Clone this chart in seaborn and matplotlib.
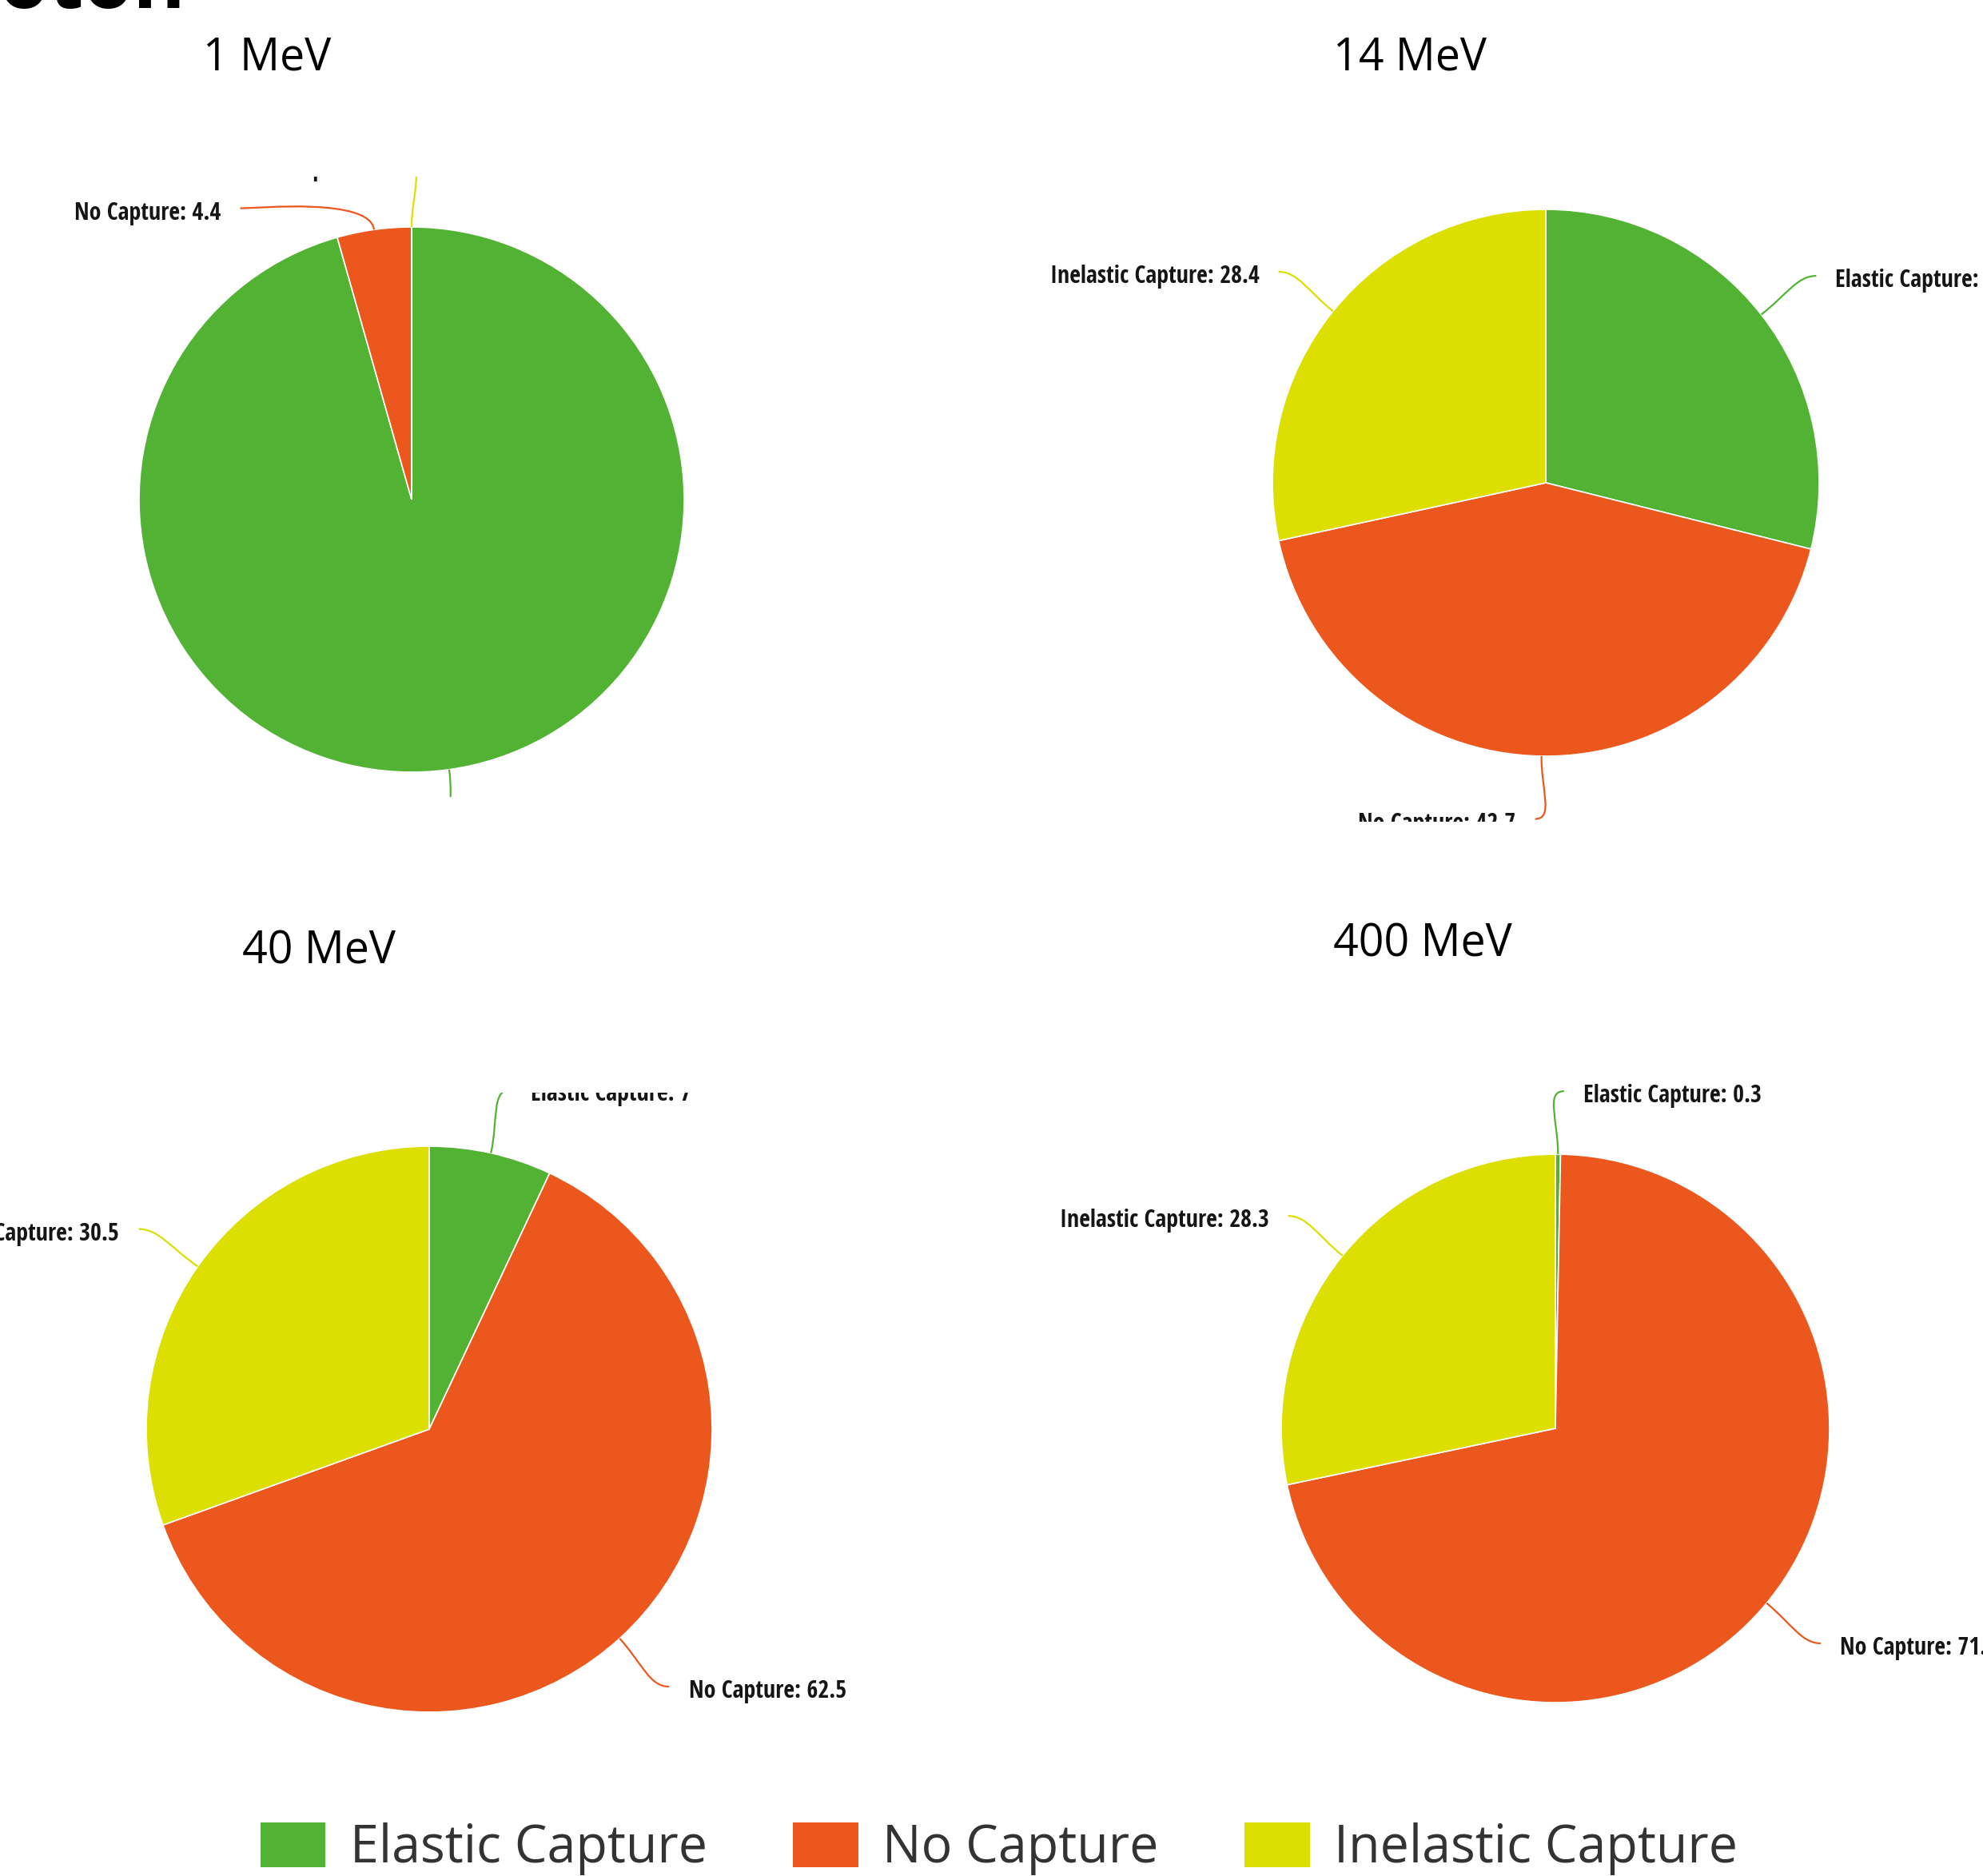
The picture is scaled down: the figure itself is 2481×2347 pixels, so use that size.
import numpy as np
import matplotlib
matplotlib.use("Agg")
import matplotlib.pyplot as plt
import seaborn as sns
from matplotlib import font_manager as fm
from matplotlib.path import Path
from matplotlib.patches import PathPatch, Patch

# ---------------- data ----------------
categories = ["Elastic Capture", "No Capture", "Inelastic Capture"]
energies = ["1 MeV", "14 MeV", "40 MeV", "400 MeV"]
values_1mev = [95.6, 4.4, 0.0]
values_14mev = [28.9, 42.7, 28.4]
values_40mev = [7.0, 62.5, 30.5]
values_400mev = [0.3, 71.4, 28.3]
all_values = [values_1mev, values_14mev, values_40mev, values_400mev]
colors = ["#52b234", "#eb571d", "#dddf00"]
slide_title = "Proton"

# ---------------- style ----------------
sns.set_theme(style="white")
plt.rcParams["font.family"] = ["Open Sans", "DejaVu Sans"]

W, H = 2481, 2347
DPI = 100
fig = plt.figure(figsize=(W / DPI, H / DPI), dpi=DPI)
fig.patch.set_facecolor("white")

# ---- choose the narrowest available bold font for the slice labels ----
installed = {f.name for f in fm.fontManager.ttflist}
candidates = [
    ("Liberation Sans Narrow", "normal"), ("Arial Narrow", "normal"),
    ("Nimbus Sans Narrow", "normal"), ("Roboto Condensed", "normal"),
    ("Open Sans Condensed", "normal"), ("DejaVu Sans", "condensed"),
    ("Liberation Sans", "normal"), ("Roboto", "normal"), ("Lato", "normal"),
]
renderer = fig.canvas.get_renderer()
REF_LABEL = "No Capture: 62.5"
TARGET_W = 196.0   # pixel width of that label in the reference
best = ("DejaVu Sans", "normal", 16.0)
for fam, st in candidates:
    if fam not in installed:
        continue
    t = fig.text(0, 0, REF_LABEL, fontsize=23.5, family=fam, fontweight="bold", fontstretch=st)
    w = t.get_window_extent(renderer).width
    t.remove()
    size = min(23.5, 23.5 * TARGET_W / w)
    if size > best[2] + 0.05:
        best = (fam, st, size)
LABEL_FAM, LABEL_STRETCH, LABEL_SIZE = best

# panel layout in pixel units: visible box (L, T, R, B), pie centre, radius, title position
layouts = [
    dict(box=(0, 221, 1100, 997), c=(515, 625), r=341, title=(334, 73)),
    dict(box=(1266, 150, 2481, 1028), c=(1934, 604), r=342, title=(1764, 73)),
    dict(box=(0, 1367, 1260, 2240), c=(537, 1788), r=354, title=(399, 1191)),
    dict(box=(1290, 1345, 2481, 2240), c=(1946, 1787), r=343, title=(1780, 1182)),
]

LABEL_R = 1.23      # label anchor radius (pie radius = 1)
LABEL_GAP_PX = 55   # min vertical spacing between labels on same side
TEXT_DROP_PX = 6    # text sits slightly below the connector end

for vals, energy, lay in zip(all_values, energies, layouts):
    L, T, R, B = lay["box"]
    cx, cy = lay["c"]
    rp = lay["r"]
    ax = fig.add_axes([L / W, 1 - B / H, (R - L) / W, (B - T) / H])
    wedges, _ = ax.pie(
        vals, colors=colors, startangle=90, counterclock=False, radius=1,
        wedgeprops=dict(edgecolor="white", linewidth=1.2),
    )
    ax.set_aspect("auto")
    ax.set_xlim((L - cx) / rp, (R - cx) / rp)
    ax.set_ylim((cy - B) / rp, (cy - T) / rp)
    ax.axis("off")

    # label positions derived from wedge geometry
    labels = []
    for w, cat, v, col in zip(wedges, categories, vals, colors):
        tm = np.deg2rad((w.theta1 + w.theta2) / 2)
        a = 90 - np.rad2deg(tm)  # clockwise angle from top
        side = 1 if a < 180 else -1
        d = np.array([np.cos(tm), np.sin(tm)])
        labels.append(dict(dir=d, side=side, x=LABEL_R * d[0], y=LABEL_R * d[1],
                           text=f"{cat}: {v:g}", color=col))
    gap = LABEL_GAP_PX / rp
    for s in (1, -1):
        grp = sorted([l for l in labels if l["side"] == s], key=lambda l: -l["y"])
        for i in range(1, len(grp)):
            if grp[i - 1]["y"] - grp[i]["y"] < gap:
                grp[i]["y"] = grp[i - 1]["y"] - gap
                grp[i]["x"] = s * np.sqrt(max(LABEL_R ** 2 - grp[i]["y"] ** 2, 0))

    for l in labels:
        s = l["side"]
        p0 = l["dir"] * 1.0
        p1 = p0 + l["dir"] * 0.12
        p3 = np.array([l["x"] + s * 0.02, l["y"]])
        p2 = np.array([p3[0] - s * 0.07, p3[1]])
        path = Path([p0, p1, p2, p3], [Path.MOVETO, Path.CURVE4, Path.CURVE4, Path.CURVE4])
        ax.add_patch(PathPatch(path, facecolor="none", edgecolor=l["color"], lw=1.6))
        ax.text(l["x"] + s * 0.09, l["y"] - TEXT_DROP_PX / rp, l["text"],
                ha="left" if s > 0 else "right",
                va="center", family=LABEL_FAM, fontstretch=LABEL_STRETCH,
                fontweight="bold", fontsize=LABEL_SIZE, color="#151515", clip_on=True)

    tx, ty = lay["title"]
    fig.text(tx / W, 1 - ty / H, energy, ha="center", va="center", fontsize=40, color="black")

# slide title (mostly above the visible area)
fig.text(232 / W, 1 - 10 / H, slide_title, ha="right", va="baseline",
         fontsize=72, fontweight="bold", color="black")

# legend
handles = [Patch(facecolor=c, edgecolor="none", label=cat) for c, cat in zip(colors, categories)]
leg = fig.legend(handles=handles, loc="center", bbox_to_anchor=(1250 / W, 1 - 2313 / H),
                 ncol=3, frameon=False, prop=dict(family="Open Sans", size=46.5),
                 handlelength=1.26, handleheight=0.97, handletextpad=0.47,
                 columnspacing=1.67, borderpad=0, labelcolor="#333333")

fig.savefig("out.png", dpi=DPI, facecolor="white")
